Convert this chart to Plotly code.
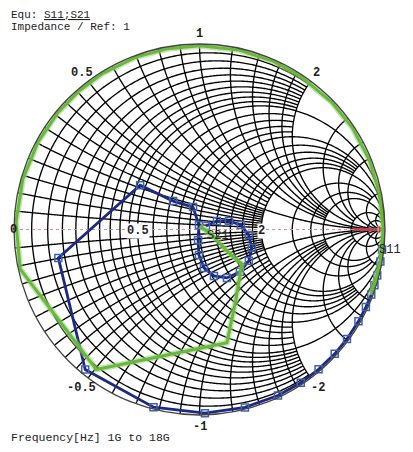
import numpy as np
import plotly.graph_objects as go

# ---------------- data (reflection / transmission coefficients, 1G -> 18G) -------------
s11_re = [0.984, 0.975, 0.958, 0.943, 0.926, 0.897, 0.857, 0.795, 0.729, 0.642, 0.546,
          0.423, 0.245, 0.029, -0.248, -0.616, -0.761, -0.320, -0.142, -0.035,
          -0.003, -0.008, -0.003, 0.024, 0.078, 0.148, 0.218, 0.266, 0.282, 0.266,
          0.223, 0.159, 0.094, 0.035]
s11_im = [-0.109, -0.172, -0.248, -0.301, -0.350, -0.418, -0.495, -0.590, -0.670, -0.754, -0.826,
          -0.895, -0.959, -0.990, -0.958, -0.755, -0.153, 0.239, 0.153, 0.121,
          0.024, -0.056, -0.137, -0.207, -0.250, -0.261, -0.228, -0.169, -0.099, -0.030,
          0.024, 0.046, 0.046, 0.019]

s21_re = [0.003, 0.073, 0.153, 0.228, 0.196, 0.148, -0.556, -0.967, -0.989, -0.953, -0.871,
          -0.764, -0.648, -0.525, -0.343, -0.170, 0.003, 0.214, 0.399, 0.545, 0.713,
          0.824, 0.915, 0.970, 0.990, 0.975, 0.925]
s21_im = [0.019, -0.035, -0.121, -0.185, -0.379, -0.610, -0.755, -0.213, 0.040, 0.270, 0.471,
          0.630, 0.748, 0.840, 0.929, 0.975, 0.990, 0.967, 0.906, 0.826, 0.686,
          0.549, 0.377, 0.196, 0.003, -0.174, -0.353]

marker_re = [0.83, 0.975]   # red marker arrow on the real axis
marker_im = [0.0, 0.0]

# tick labels
real_ticks = [0.5, 2]
real_tick_text = ["0.5", "2"]
imag_ticks = [0, 0.5, 1, 2, -0.5, -1, -2]
imag_tick_text = ["0", "0.5", "1", "2", "-0.5", "-1", "-2"]

# grid specification: (values, limit of the other coordinate)
FULL = 1e4
r_grid = [
    ([0.05, 0.1, 0.15, 0.2, 0.25, 0.3, 0.35, 0.4, 0.45], 2.0),
    ([0.5], FULL),
    ([0.6, 0.7, 0.8, 0.9], 2.0),
    ([1.0], FULL),
    ([1.2, 1.4, 1.6, 1.8], 5.0),
    ([2.0], FULL),
    ([3.0, 4.0], 10.0),
    ([5.0, 10.0, 20.0], FULL),
]
x_grid = [
    ([0.05, 0.1, 0.15, 0.2, 0.25, 0.3, 0.35, 0.4, 0.45], 2.0),
    ([0.5], FULL),
    ([0.6, 0.7, 0.8, 0.9], 2.0),
    ([1.0], FULL),
    ([1.2, 1.4, 1.6, 1.8], 5.0),
    ([2.0], FULL),
    ([3.0, 4.0], 10.0),
    ([5.0, 10.0, 20.0], FULL),
]


def to_z(re, im):
    g = np.array(re) + 1j * np.array(im)
    z = (1 + g) / (1 - g)
    return z.real, z.imag


def grid_lines():
    R, X = [], []
    for vals, xmax in r_grid:
        for r in vals:
            tmax = np.arctan(xmax / (r + 1))
            t = np.linspace(-tmax, tmax, 500)
            R += list(np.full(t.size, r)) + [None]
            X += list((r + 1) * np.tan(t)) + [None]
    for vals, rmax in x_grid:
        for x in vals:
            smax = rmax / (1 + rmax)
            s = np.linspace(0, smax, 400)
            rr = s / (1 - s)
            for sign in (1, -1):
                R += list(rr) + [None]
                X += list(np.full(s.size, sign * x)) + [None]
    return R, X


gR, gX = grid_lines()

fig = go.Figure()
fig.add_trace(go.Scattersmith(real=gR, imag=gX, mode="lines",
                              line=dict(color="#000000", width=1.35),
                              hoverinfo="skip", showlegend=False))
# real axis (dotted pink)
fig.add_trace(go.Scattersmith(real=[0, 1, 1e4], imag=[0, 0, 0], mode="lines",
                              line=dict(color="#d98a9a", width=1.2, dash="dot"),
                              hoverinfo="skip", showlegend=False))

zr, zi = to_z(marker_re, marker_im)
fig.add_trace(go.Scattersmith(real=zr, imag=zi, mode="lines+markers",
                              line=dict(color="#c0404a", width=3),
                              marker=dict(symbol=["circle", "triangle-right"], size=[0, 9],
                                          color="#c0404a"),
                              hoverinfo="skip", showlegend=False))

zr, zi = to_z(s11_re, s11_im)
fig.add_trace(go.Scattersmith(real=zr, imag=zi, mode="lines+markers", name="S11",
                              line=dict(color="#1c2a82", width=2.8),
                              marker=dict(symbol="square-open", size=7,
                                          color="#4062ad", line=dict(width=1.5))))

zr, zi = to_z(s21_re, s21_im)
fig.add_trace(go.Scattersmith(real=zr, imag=zi, mode="lines", name="S21",
                              line=dict(color="rgba(150,210,110,0.55)", width=6),
                              hoverinfo="skip", showlegend=False))
fig.add_trace(go.Scattersmith(real=zr, imag=zi, mode="lines", name="S21",
                              line=dict(color="#69b83e", width=3)))

OFF = 8                      # page offset of the figure (body margin)
W, H = 413 - OFF, 452 - OFF
CX, CY, RAD = 199.5 - OFF, 229.5 - OFF, 185.5   # chart centre / radius in figure pixels
ML, MT = CX - RAD, CY - RAD
MR, MB = W - (CX + RAD), H - (CY + RAD)
PW, PH = W - ML - MR, H - MT - MB

font = "Liberation Mono, DejaVu Sans Mono, monospace"
fig.update_layout(
    width=W, height=H,
    margin=dict(l=ML, r=MR, t=MT, b=MB, pad=0, autoexpand=False),
    paper_bgcolor="white",
    showlegend=False,
    font=dict(family=font, size=11, color="#222"),
    smith=dict(
        domain=dict(x=[0, 1], y=[0, 1]),
        bgcolor="white",
        realaxis=dict(tickvals=[0.5, 1, 2], showgrid=False, showline=False,
                      showticklabels=False, ticks=""),
        imaginaryaxis=dict(tickvals=[0.5, 1, 2], showgrid=False, showline=True,
                           linecolor="#444", linewidth=1.3, ticks="",
                           showticklabels=False),
    ),
)


def px_to_paper(x, y):
    # x, y given in page pixels
    return (x - OFF - ML) / PW, 1 - (y - OFF - MT) / PH


def add_text(text, x, y, size=11.5, xanchor="left", yanchor="middle", bg=None, bold=False):
    px, py = px_to_paper(x, y)
    t = f"<b>{text}</b>" if bold else text
    fig.add_annotation(text=t, x=px, y=py, xref="paper", yref="paper",
                       xanchor=xanchor, yanchor=yanchor, showarrow=False,
                       bgcolor=bg, borderpad=0,
                       font=dict(family=font, size=size, color="#222"))


add_text("Equ: <u>S11;S21</u>", 10, 15, size=11)
add_text("Impedance / Ref: 1", 10, 27, size=11)
add_text("Frequency[Hz] 1G to 18G", 10, 437)
add_text("S11", 378, 250, size=12)
add_text("S21", 206, 236, size=12)

PCX, PCY = CX + OFF, CY + OFF
for v, t in zip(real_ticks, real_tick_text):
    g = (v - 1) / (v + 1)
    add_text(t, PCX + g * RAD, PCY + 1, size=12, xanchor="center",
             bg="white", bold=True)
for v, t in zip(imag_ticks, imag_tick_text):
    g = (1j * v - 1) / (1j * v + 1)
    ang = np.angle(g)
    if v == 0:
        add_text(t, 8.5, PCY, size=12, xanchor="left", bold=True)
        continue
    off = 10 if v > 0 else 12
    x = PCX + (RAD + off) * np.cos(ang)
    y = PCY - (RAD + off) * np.sin(ang)
    add_text(t, x, y, size=12, xanchor="center", bold=True)

fig.write_html("out.html")
